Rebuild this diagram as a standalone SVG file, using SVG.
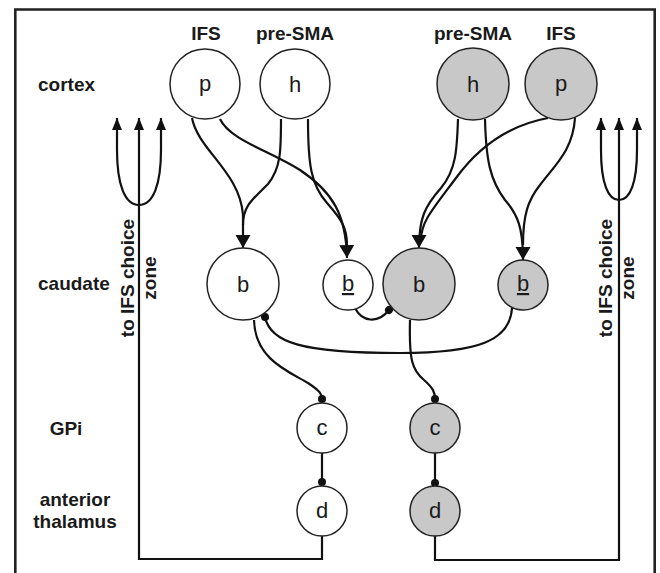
<svg xmlns="http://www.w3.org/2000/svg" width="660" height="573" viewBox="0 0 660 573">
<style>
.lbl{font-family:"Liberation Sans",Arial,sans-serif;font-weight:bold;font-size:19px;fill:#1a1a1a}
.nt{font-family:"Liberation Sans",Arial,sans-serif;font-size:22px;fill:#1a1a1a;text-anchor:middle}
.w{fill:#fff;stroke:#222;stroke-width:1.5}
.g{fill:#c8c8c8;stroke:#222;stroke-width:1.5}
.c{fill:none;stroke:#111;stroke-width:2.2}
</style>
<defs>
<marker id="arr" markerUnits="userSpaceOnUse" markerWidth="14" markerHeight="16" refX="13" refY="7.5" orient="auto" viewBox="0 0 14 16">
<path d="M0,0 L13,7.5 L0,15 z" fill="#111"/>
</marker>
<marker id="up" markerUnits="userSpaceOnUse" markerWidth="13" markerHeight="11" refX="12" refY="5" orient="auto-start-reverse" viewBox="0 0 13 11">
<path d="M0,0 L12,5 L0,10 z" fill="#111"/>
</marker>
<marker id="dot" markerUnits="userSpaceOnUse" markerWidth="10" markerHeight="10" refX="5" refY="5" orient="auto" viewBox="0 0 10 10">
<circle cx="5" cy="5" r="4" fill="#111"/>
</marker>
</defs>
<rect width="660" height="573" fill="#fff"/>
<path d="M15.3,575 V9.5 H654.7 V575" fill="none" stroke="#222" stroke-width="2.6"/>

<g id="row-labels">
<text class="lbl" x="38" y="91">cortex</text>
<text class="lbl" x="38" y="290">caudate</text>
<text class="lbl" x="66" y="435" text-anchor="middle">GPi</text>
<text class="lbl" x="75" y="506" text-anchor="middle">anterior</text>
<text class="lbl" x="75" y="528" text-anchor="middle">thalamus</text>
</g>
<g id="area-labels">
<text class="lbl" x="206" y="40" text-anchor="middle">IFS</text>
<text class="lbl" x="295" y="40" text-anchor="middle">pre-SMA</text>
<text class="lbl" x="473" y="40" text-anchor="middle">pre-SMA</text>
<text class="lbl" x="561" y="40" text-anchor="middle">IFS</text>
</g>
<g id="side-left">
<text class="lbl" transform="translate(128,278) rotate(-90)" text-anchor="middle" y="6">to IFS choice</text>
<text class="lbl" transform="translate(150,278) rotate(-90)" text-anchor="middle" y="6">zone</text>
</g>
<g id="side-right">
<text class="lbl" transform="translate(606,278) rotate(-90)" text-anchor="middle" y="6">to IFS choice</text>
<text class="lbl" transform="translate(628,278) rotate(-90)" text-anchor="middle" y="6">zone</text>
</g>

<g id="connectors">
<path class="c" d="M192,118 C198,150 240,172 243,215 L243,248" marker-end="url(#arr)"/>
<path class="c" d="M281,119 C281,150 281,168 268,184 C252,200 243,206 243,225"/>
<path class="c" d="M220,119 C230,140 268,150 300,170 C333,192 346,215 347,258" marker-end="url(#arr)"/>
<path class="c" d="M308,119 C308,165 311,185 327,203 C342,220 347,228 347,245"/>
<path class="c" d="M458,119 C457,150 456,170 441,188 C425,206 419,218 419,248" marker-end="url(#arr)"/>
<path class="c" d="M548,118 C510,125 480,145 456,178 C432,210 421,222 421,240"/>
<path class="c" d="M485,119 C486,160 490,180 505,200 C518,215 523,228 523,260" marker-end="url(#arr)"/>
<path class="c" d="M575,118 C573,150 555,165 540,185 C528,200 523,215 523,245"/>
<path class="c" d="M355,308 C362,322 378,324 389,310" marker-end="url(#dot)"/>
<path class="c" d="M512,308 C510,340 480,353 400,353 C300,353 270,342 265,317" marker-end="url(#dot)"/>
<path class="c" d="M254,320 C255,360 290,372 308,383 C320,391 322,394 322,399" marker-end="url(#dot)"/>
<path class="c" d="M410,320 C409,360 412,370 424,380 C433,388 435,392 435,399" marker-end="url(#dot)"/>
<path class="c" d="M322,453 V482" marker-end="url(#dot)"/>
<path class="c" d="M435,453 V483" marker-end="url(#dot)"/>
<path class="c" d="M322,536 V559 H139 V118" marker-end="url(#up)"/>
<path class="c" d="M117,118 L117,150 C117,185 125,205 139,205 C153,205 161,185 161,150 L161,118" marker-start="url(#up)" marker-end="url(#up)"/>
<path class="c" d="M435,536 V560 H619 V118" marker-end="url(#up)"/>
<path class="c" d="M601,118 L601,150 C601,183 608,200 619,200 C630,200 637,183 637,150 L637,118" marker-start="url(#up)" marker-end="url(#up)"/>
</g>

<g id="ifs-p-left"><circle class="w" cx="205" cy="84" r="35"/><text class="nt" x="205" y="91">p</text></g>
<g id="presma-h-left"><circle class="w" cx="295" cy="84" r="35"/><text class="nt" x="295" y="92">h</text></g>
<g id="presma-h-right"><circle class="g" cx="473" cy="84" r="36"/><text class="nt" x="473" y="92">h</text></g>
<g id="ifs-p-right"><circle class="g" cx="561" cy="84" r="36"/><text class="nt" x="561" y="91">p</text></g>
<g id="caudate-b-left"><circle class="w" cx="243" cy="284" r="36"/><text class="nt" x="243" y="292">b</text></g>
<g id="caudate-bu-left"><circle class="w" cx="348" cy="285" r="25"/><text class="nt" x="348" y="291" text-decoration="underline">b</text></g>
<g id="caudate-b-right"><circle class="g" cx="419" cy="284" r="36"/><text class="nt" x="419" y="292">b</text></g>
<g id="caudate-bu-right"><circle class="g" cx="523" cy="285" r="25"/><text class="nt" x="523" y="291" text-decoration="underline">b</text></g>
<g id="gpi-c-left"><circle class="w" cx="322" cy="428" r="25"/><text class="nt" x="322" y="435">c</text></g>
<g id="gpi-c-right"><circle class="g" cx="435" cy="428" r="25"/><text class="nt" x="435" y="435">c</text></g>
<g id="thal-d-left"><circle class="w" cx="322" cy="511" r="25"/><text class="nt" x="322" y="518">d</text></g>
<g id="thal-d-right"><circle class="g" cx="435" cy="511" r="25"/><text class="nt" x="435" y="518">d</text></g>
</svg>
